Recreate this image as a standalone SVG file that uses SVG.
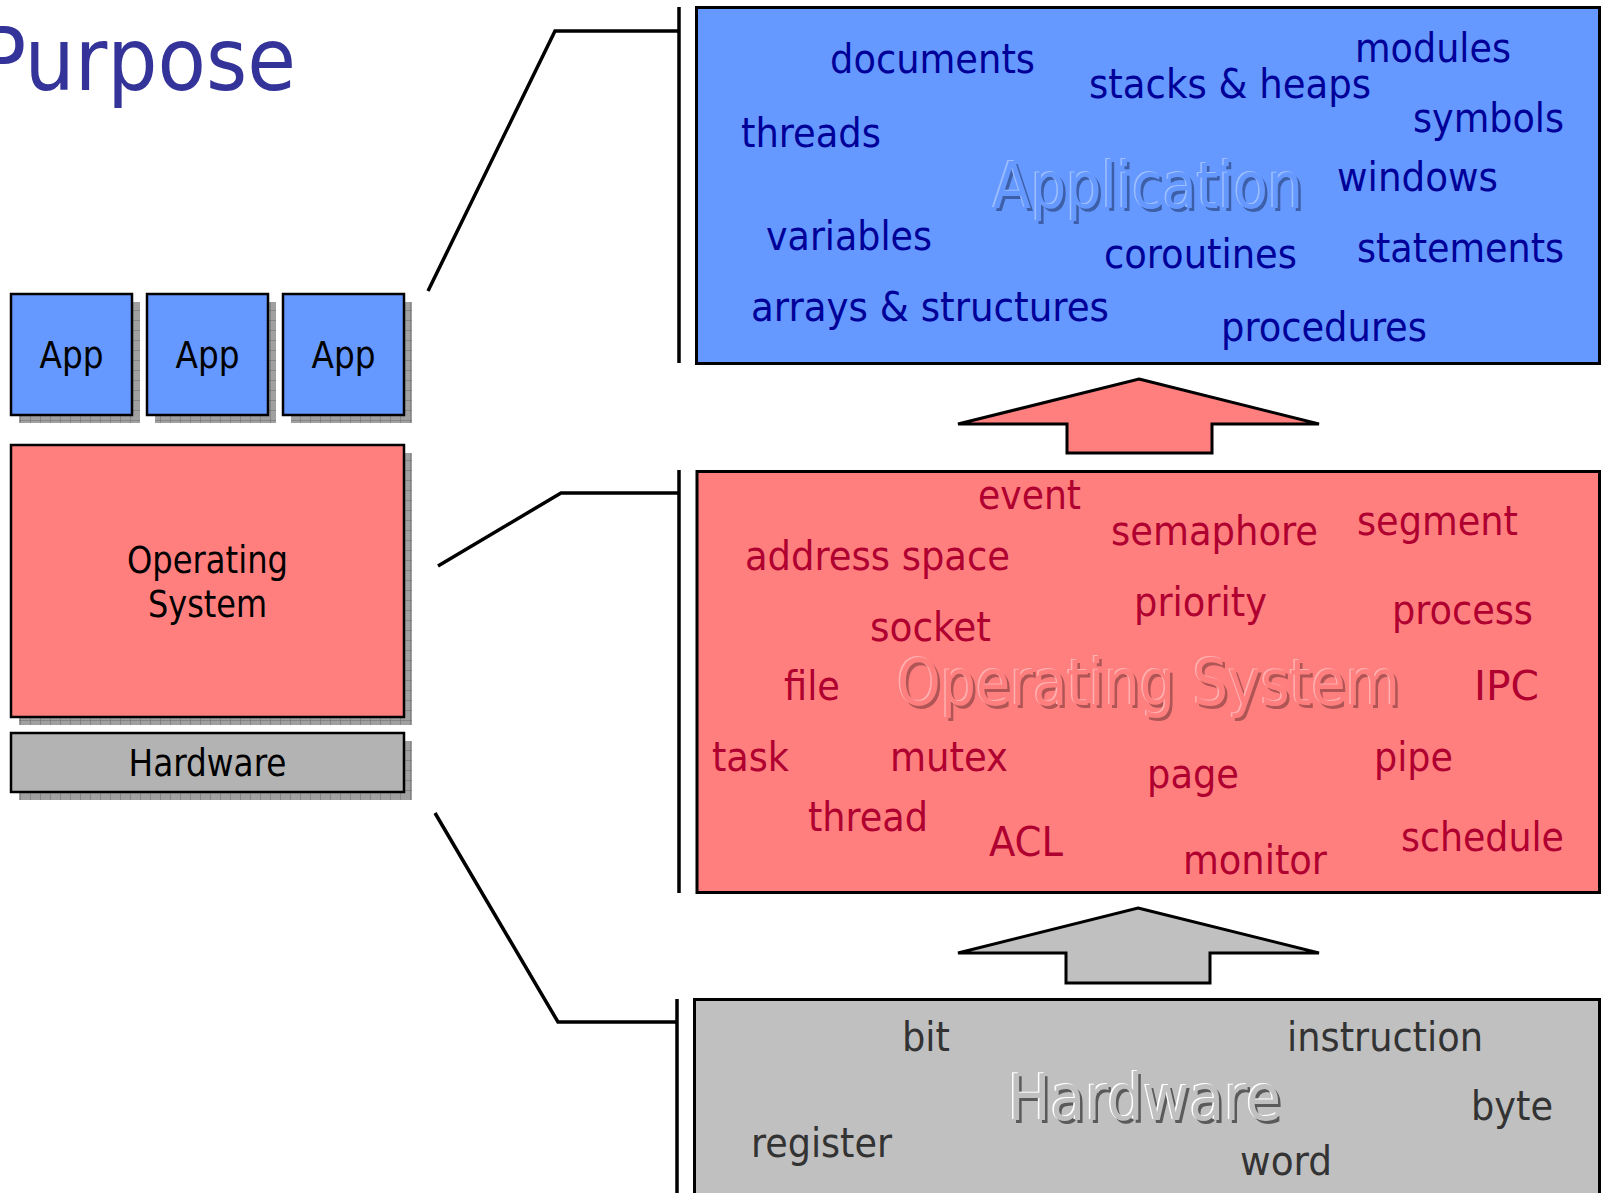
<svg xmlns="http://www.w3.org/2000/svg" width="1602" height="1193" viewBox="0 0 1602 1193">
  <defs>
    <!-- dithered drop-shadow fill used behind the small layer boxes -->
    <pattern id="shadowGrid" width="10" height="10" patternUnits="userSpaceOnUse">
      <rect width="10" height="10" fill="#a0a0a0"/>
      <path d="M0 0H10M0 0V10" stroke="#6a6a6a" stroke-width="1"/>
    </pattern>
  </defs>
  <style>
    text { font-family: "DejaVu Sans Condensed", "DejaVu Sans", sans-serif; font-stretch: condensed; }
    .title { font-size: 88px; fill: #333399; }
    .small { font-size: 37px; fill: #000000; text-anchor: middle; }
    .box { stroke: #000000; stroke-width: 2.5; }
    .big { stroke: #000000; stroke-width: 3; }
    .shadow { fill: url(#shadowGrid); }
    .app { fill: #6699ff; }
    .os { fill: #ff7f7f; }
    .hwS { fill: #b3b3b3; }
    .hwB { fill: #c0c0c0; }
    .w { font-size: 41px; }
    .wApp { fill: #000099; }
    .wOs { fill: #b00030; }
    .wHw { fill: #333333; }
    .mark { font-size: 64px; }
    .link { fill: none; stroke: #000000; stroke-width: 3.5; }
  </style>

  <!-- heading -->
  <text class="title" x="296" y="90" text-anchor="end">Purpose</text>

  <!-- left stack: apps / operating system / hardware -->
  <g id="app1">
    <rect class="shadow" x="19" y="302" width="121" height="121"/>
    <rect class="box app" x="11" y="294" width="121" height="121"/>
    <text class="small" x="71.5" y="368" textLength="64" lengthAdjust="spacingAndGlyphs">App</text>
  </g>
  <g id="app2">
    <rect class="shadow" x="155" y="302" width="121" height="121"/>
    <rect class="box app" x="147" y="294" width="121" height="121"/>
    <text class="small" x="207.5" y="368" textLength="64" lengthAdjust="spacingAndGlyphs">App</text>
  </g>
  <g id="app3">
    <rect class="shadow" x="291" y="302" width="121" height="121"/>
    <rect class="box app" x="283" y="294" width="121" height="121"/>
    <text class="small" x="343.5" y="368" textLength="64" lengthAdjust="spacingAndGlyphs">App</text>
  </g>
  <g id="os-small">
    <rect class="shadow" x="19" y="453" width="393" height="272"/>
    <rect class="box os" x="11" y="445" width="393" height="272"/>
    <text class="small" x="207.5" y="573" textLength="161" lengthAdjust="spacingAndGlyphs">Operating</text>
    <text class="small" x="207.5" y="617" textLength="119" lengthAdjust="spacingAndGlyphs">System</text>
  </g>
  <g id="hw-small">
    <rect class="shadow" x="19" y="741" width="393" height="59"/>
    <rect class="box hwS" x="11" y="733" width="393" height="59"/>
    <text class="small" x="207.5" y="776" textLength="158" lengthAdjust="spacingAndGlyphs">Hardware</text>
  </g>

  <!-- zoom-out brackets linking the stack to the detail panels -->
  <g id="connectors">
    <polyline class="link" points="428,291 555,31 679,31"/>
    <line class="link" x1="679" y1="7" x2="679" y2="363"/>
    <polyline class="link" points="438,566 561,493 679,493"/>
    <line class="link" x1="679" y1="470" x2="679" y2="893"/>
    <polyline class="link" points="435,813 558,1022 677,1022"/>
    <line class="link" x1="677" y1="999" x2="677" y2="1193"/>
  </g>

  <!-- application panel -->
  <g id="application">
    <rect class="big app" x="696.5" y="7.5" width="903" height="356"/>
    <text class="mark" x="995.5" y="210.5" fill="#3d5fa8" textLength="310" lengthAdjust="spacingAndGlyphs">Application</text>
    <text class="mark" x="991.5" y="206.5" fill="#9dbfff" textLength="310" lengthAdjust="spacingAndGlyphs">Application</text>
    <text class="mark" x="993" y="208" fill="#6699ff" textLength="310" lengthAdjust="spacingAndGlyphs">Application</text>
    <g class="w wApp">
      <text x="830" y="73" textLength="205" lengthAdjust="spacingAndGlyphs">documents</text>
      <text x="1089" y="98" textLength="282" lengthAdjust="spacingAndGlyphs">stacks &amp; heaps</text>
      <text x="1355" y="62" textLength="156" lengthAdjust="spacingAndGlyphs">modules</text>
      <text x="741" y="147" textLength="140" lengthAdjust="spacingAndGlyphs">threads</text>
      <text x="1413" y="132" textLength="151" lengthAdjust="spacingAndGlyphs">symbols</text>
      <text x="1337" y="191" textLength="161" lengthAdjust="spacingAndGlyphs">windows</text>
      <text x="766" y="250" textLength="166" lengthAdjust="spacingAndGlyphs">variables</text>
      <text x="1104" y="268" textLength="193" lengthAdjust="spacingAndGlyphs">coroutines</text>
      <text x="1357" y="262" textLength="207" lengthAdjust="spacingAndGlyphs">statements</text>
      <text x="751" y="321" textLength="358" lengthAdjust="spacingAndGlyphs">arrays &amp; structures</text>
      <text x="1221" y="341" textLength="206" lengthAdjust="spacingAndGlyphs">procedures</text>
    </g>
  </g>

  <!-- operating system panel -->
  <g id="operating-system">
    <rect class="big os" x="697" y="471.5" width="902.5" height="421"/>
    <text class="mark" x="899.5" y="707.5" fill="#b05555" textLength="503" lengthAdjust="spacingAndGlyphs">Operating System</text>
    <text class="mark" x="895.5" y="703.5" fill="#ffb0b0" textLength="503" lengthAdjust="spacingAndGlyphs">Operating System</text>
    <text class="mark" x="897" y="705" fill="#ff7f7f" textLength="503" lengthAdjust="spacingAndGlyphs">Operating System</text>
    <g class="w wOs">
      <text x="978" y="509" textLength="103" lengthAdjust="spacingAndGlyphs">event</text>
      <text x="1111" y="545" textLength="207" lengthAdjust="spacingAndGlyphs">semaphore</text>
      <text x="1357" y="535" textLength="161" lengthAdjust="spacingAndGlyphs">segment</text>
      <text x="745" y="570" textLength="265" lengthAdjust="spacingAndGlyphs">address space</text>
      <text x="1134" y="616" textLength="133" lengthAdjust="spacingAndGlyphs">priority</text>
      <text x="1392" y="624" textLength="141" lengthAdjust="spacingAndGlyphs">process</text>
      <text x="870" y="641" textLength="121" lengthAdjust="spacingAndGlyphs">socket</text>
      <text x="784" y="700" textLength="56" lengthAdjust="spacingAndGlyphs">file</text>
      <text x="1474" y="700" textLength="65" lengthAdjust="spacingAndGlyphs">IPC</text>
      <text x="712" y="771" textLength="77" lengthAdjust="spacingAndGlyphs">task</text>
      <text x="890" y="771" textLength="118" lengthAdjust="spacingAndGlyphs">mutex</text>
      <text x="1147" y="788" textLength="92" lengthAdjust="spacingAndGlyphs">page</text>
      <text x="1374" y="771" textLength="79" lengthAdjust="spacingAndGlyphs">pipe</text>
      <text x="808" y="831" textLength="120" lengthAdjust="spacingAndGlyphs">thread</text>
      <text x="989" y="856" textLength="74" lengthAdjust="spacingAndGlyphs">ACL</text>
      <text x="1183" y="874" textLength="144" lengthAdjust="spacingAndGlyphs">monitor</text>
      <text x="1401" y="851" textLength="163" lengthAdjust="spacingAndGlyphs">schedule</text>
    </g>
  </g>

  <!-- hardware panel -->
  <g id="hardware">
    <rect class="big hwB" x="694.5" y="999.5" width="905" height="200"/>
    <text class="mark" x="1010.5" y="1122.5" fill="#5a5a5a" textLength="273" lengthAdjust="spacingAndGlyphs">Hardware</text>
    <text class="mark" x="1006.5" y="1118.5" fill="#ffffff" textLength="273" lengthAdjust="spacingAndGlyphs">Hardware</text>
    <text class="mark" x="1008" y="1120" fill="#c0c0c0" textLength="273" lengthAdjust="spacingAndGlyphs">Hardware</text>
    <g class="w wHw">
      <text x="902" y="1051" textLength="48" lengthAdjust="spacingAndGlyphs">bit</text>
      <text x="1287" y="1051" textLength="196" lengthAdjust="spacingAndGlyphs">instruction</text>
      <text x="1471" y="1120" textLength="82" lengthAdjust="spacingAndGlyphs">byte</text>
      <text x="751" y="1157" textLength="141" lengthAdjust="spacingAndGlyphs">register</text>
      <text x="1240" y="1175" textLength="92" lengthAdjust="spacingAndGlyphs">word</text>
    </g>
  </g>

  <!-- upward block arrows between layers -->
  <g id="arrow-os-to-app">
    <polygon class="big os" points="1139,379 1319,424 1212,424 1212,453 1067,453 1067,424 958,424"/>
  </g>
  <g id="arrow-hw-to-os">
    <polygon class="big hwB" points="1138,908 1319,953 1210,953 1210,983 1066,983 1066,953 958,953"/>
  </g>
</svg>
